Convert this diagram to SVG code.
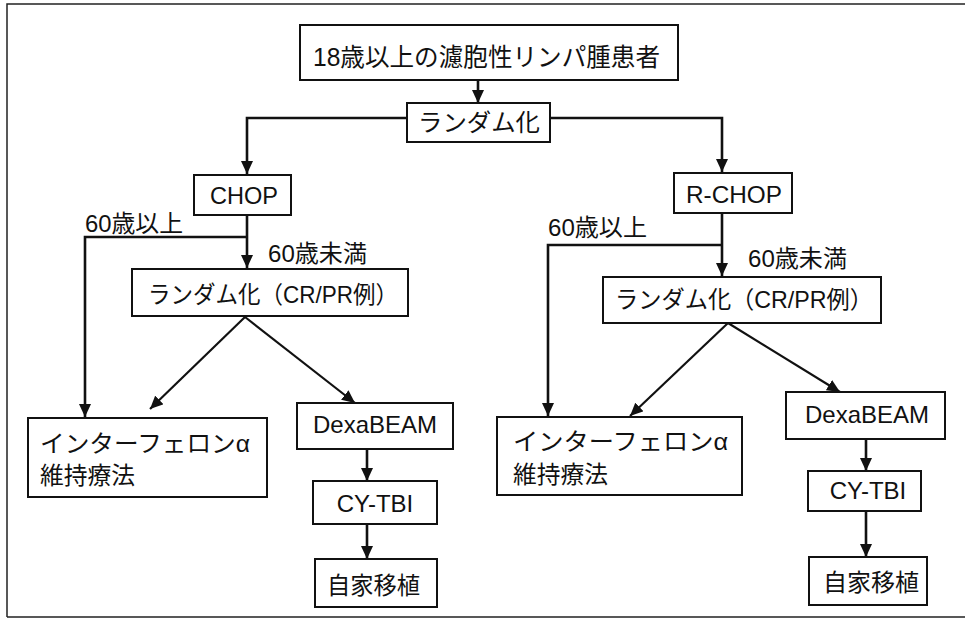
<svg xmlns="http://www.w3.org/2000/svg" width="965" height="628" viewBox="0 0 965 628">
<style>
.bx{fill:#fff;stroke:#111;stroke-width:2}
.t{font-family:"Liberation Sans","Noto Sans CJK JP",sans-serif;font-size:24px;fill:#111}
.c{stroke:#111;stroke-width:2.6;fill:none}
.d{stroke:#111;stroke-width:2.2;fill:none}
.fr{stroke:#222;stroke-width:1.5;fill:none}
</style>
<defs>
<marker id="ah" markerUnits="userSpaceOnUse" markerWidth="13" markerHeight="12" refX="13" refY="6" orient="auto">
<path d="M0,0 L13,6 L0,12 z" fill="#111"/>
</marker>
</defs>
<rect width="965" height="628" fill="#fff"/>
<path class="fr" d="M7,617 L7,4 L965,4 M7,617 L965,617"/>
<g id="connectors">
<path class="c" d="M478,80 L478,103" marker-end="url(#ah)"/>
<path class="c" d="M407,118 L247,118 L247,174" marker-end="url(#ah)"/>
<path class="c" d="M550,118 L722,118 L722,172" marker-end="url(#ah)"/>
<path class="c" d="M247,215 L247,268" marker-end="url(#ah)"/>
<path class="c" d="M247,237 L85,237 L85,417" marker-end="url(#ah)"/>
<path class="c" d="M722,213 L722,276" marker-end="url(#ah)"/>
<path class="c" d="M722,245 L548,245 L548,416" marker-end="url(#ah)"/>
<path class="d" d="M245,317 L150,409" marker-end="url(#ah)"/>
<path class="d" d="M245,317 L355,403" marker-end="url(#ah)"/>
<path class="d" d="M728,323 L630,416" marker-end="url(#ah)"/>
<path class="d" d="M728,323 L840,392" marker-end="url(#ah)"/>
<path class="c" d="M367,449 L367,481" marker-end="url(#ah)"/>
<path class="c" d="M367,524 L367,559" marker-end="url(#ah)"/>
<path class="c" d="M866,439 L866,471" marker-end="url(#ah)"/>
<path class="c" d="M866,511 L866,557" marker-end="url(#ah)"/>
</g>
<g id="n-patients"><rect class="bx" x="300" y="25" width="378" height="55"/><text class="t" x="313" y="66" textLength="347" lengthAdjust="spacingAndGlyphs" style="font-size:25px">18歳以上の濾胞性リンパ腫患者</text></g>
<g id="n-random"><rect class="bx" x="407" y="103" width="143" height="39"/><text class="t" x="418" y="131" textLength="122" lengthAdjust="spacingAndGlyphs">ランダム化</text></g>
<g id="n-chop"><rect class="bx" x="194" y="175" width="97" height="40"/><text class="t" x="210" y="204" textLength="68" lengthAdjust="spacingAndGlyphs">CHOP</text></g>
<g id="n-rchop"><rect class="bx" x="674" y="173" width="118" height="40"/><text class="t" x="686" y="203" textLength="96" lengthAdjust="spacingAndGlyphs">R-CHOP</text></g>
<g id="l-over60-left"><text class="t" x="85" y="232" textLength="98" lengthAdjust="spacingAndGlyphs">60歳以上</text></g>
<g id="l-under60-left"><text class="t" x="268" y="262" textLength="99" lengthAdjust="spacingAndGlyphs">60歳未満</text></g>
<g id="l-over60-right"><text class="t" x="548" y="236" textLength="99" lengthAdjust="spacingAndGlyphs">60歳以上</text></g>
<g id="l-under60-right"><text class="t" x="748" y="267" textLength="99" lengthAdjust="spacingAndGlyphs">60歳未満</text></g>
<g id="n-random-left"><rect class="bx" x="132" y="269" width="276" height="47"/><text class="t" x="148" y="303" textLength="250" lengthAdjust="spacingAndGlyphs">ランダム化（CR/PR例）</text></g>
<g id="n-random-right"><rect class="bx" x="603" y="277" width="278" height="46"/><text class="t" x="615" y="308" textLength="258" lengthAdjust="spacingAndGlyphs">ランダム化（CR/PR例）</text></g>
<g id="n-ifn-left"><rect class="bx" x="28" y="418" width="239" height="79"/><text class="t" x="40" y="452" textLength="210" lengthAdjust="spacingAndGlyphs">インターフェロンα</text><text class="t" x="40" y="484" textLength="95" lengthAdjust="spacingAndGlyphs">維持療法</text></g>
<g id="n-ifn-right"><rect class="bx" x="497" y="417" width="245" height="78"/><text class="t" x="513" y="450" textLength="215" lengthAdjust="spacingAndGlyphs">インターフェロンα</text><text class="t" x="513" y="483" textLength="95" lengthAdjust="spacingAndGlyphs">維持療法</text></g>
<g id="n-dexa-left"><rect class="bx" x="297" y="403" width="156" height="46"/><text class="t" x="375" y="433" text-anchor="middle">DexaBEAM</text></g>
<g id="n-cytbi-left"><rect class="bx" x="313" y="481" width="124" height="43"/><text class="t" x="375" y="512" text-anchor="middle">CY-TBI</text></g>
<g id="n-auto-left"><rect class="bx" x="315" y="559" width="122" height="48"/><text class="t" x="327" y="594" textLength="93" lengthAdjust="spacingAndGlyphs">自家移植</text></g>
<g id="n-dexa-right"><rect class="bx" x="786" y="392" width="159" height="47"/><text class="t" x="867" y="423" text-anchor="middle">DexaBEAM</text></g>
<g id="n-cytbi-right"><rect class="bx" x="808" y="471" width="113" height="40"/><text class="t" x="868" y="499" text-anchor="middle">CY-TBI</text></g>
<g id="n-auto-right"><rect class="bx" x="809" y="557" width="118" height="48"/><text class="t" x="823" y="591" textLength="96" lengthAdjust="spacingAndGlyphs">自家移植</text></g>
</svg>
